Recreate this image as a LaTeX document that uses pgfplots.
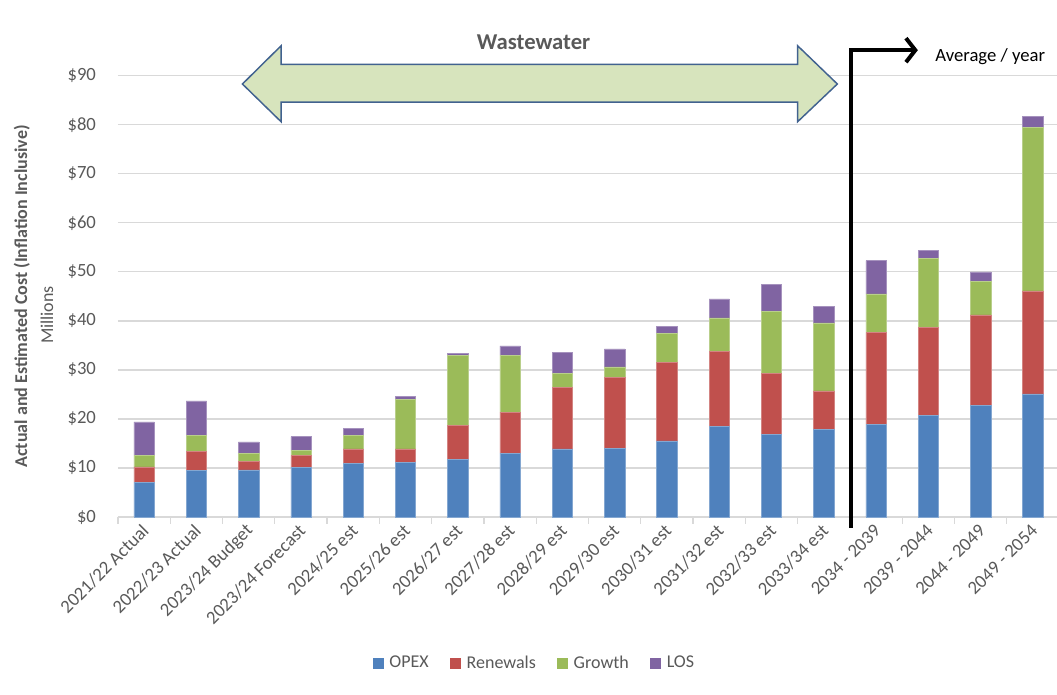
\documentclass[border=0pt]{standalone}
\usepackage{pgfplots}
\pgfplotsset{compat=1.18}
\usepackage{pgfplotstable}
\usepackage{fontspec}
\setmainfont{Carlito}
\usetikzlibrary{arrows.meta}
\definecolor{opex}{HTML}{4F81BD}
\definecolor{ren}{HTML}{C0504D}
\definecolor{gro}{HTML}{9BBB59}
\definecolor{los}{HTML}{8064A2}
\definecolor{txt}{HTML}{595959}
\definecolor{gridc}{HTML}{D9D9D9}
\definecolor{ampfill}{HTML}{D7E4BD}
\definecolor{ampline}{HTML}{41628F}

\pgfplotstableread{
x opex ren gro los
0 7.1 3.1 2.3 6.9
1 9.5 3.9 3.3 7.0
2 9.6 1.8 1.6 2.3
3 10.1 2.4 1.1 2.8
4 10.9 3.0 2.7 1.5
5 11.1 2.8 10.1 0.6
6 11.7 7.0 14.2 0.4
7 13.0 8.4 11.6 1.9
8 13.9 12.6 2.8 4.2
9 14.0 14.5 2.1 3.7
10 15.5 16.1 5.9 1.4
11 18.5 15.2 6.9 3.9
12 16.9 12.4 12.6 5.5
13 17.9 7.8 13.9 3.4
14 18.9 18.7 7.9 6.8
15 20.7 17.9 14.1 1.7
16 22.8 18.4 6.9 1.9
17 25.1 21.0 33.4 2.2
}\data

\begin{document}
\begin{tikzpicture}
\path[use as bounding box] (-88.5pt,-133.5pt) rectangle (704.25pt,387.75pt);
\begin{axis}[
  at={(0,0)}, anchor=south west,
  width=705.75pt, height=331pt, scale only axis,
  ybar stacked, bar width=0.39,
  xmin=-0.5, xmax=17.5, ymin=0, ymax=90,
  clip=false,
  axis lines*=left,
  x axis line style={draw=gridc, line width=1pt},
  y axis line style={draw=none},
  ymajorgrids, grid style={draw=gridc, line width=1pt},
  ytick={0,10,...,90},
  yticklabels={\$0,\$10,\$20,\$30,\$40,\$50,\$60,\$70,\$80,\$90},
  ytick style={draw=none},
  yticklabel style={font=\fontsize{14}{17}\selectfont, text=txt, xshift=-8pt},
  xtick={-0.5,0.5,...,17.5},
  x tick label as interval,
  xticklabels={2021/22 Actual,2022/23 Actual,2023/24 Budget,2023/24 Forecast,2024/25 est,2025/26 est,2026/27 est,2027/28 est,2028/29 est,2029/30 est,2030/31 est,2031/32 est,2032/33 est,2033/34 est,2034 - 2039,2039 - 2044,2044 - 2049,2049 - 2054},
  xtick style={draw=gridc, line width=1pt},
  tick align=outside, major tick length=5pt,
  xticklabel style={rotate=45, anchor=east, font=\fontsize{14}{17}\selectfont, text=txt, xshift=2pt, yshift=-3pt},
  legend style={at={(0.443,-0.331)}, anchor=center, draw=none, legend columns=-1,
    font=\fontsize{13.5}{16}\selectfont, text=txt,
    /tikz/every even column/.append style={column sep=14pt}},
]
\addplot[fill=opex, draw=opex!70!white, line width=0.4pt, legend image code/.code={\fill[opex] (0pt,-3.75pt) rectangle (7.5pt,3.75pt); \path (10pt,0pt);}] table[x=x,y=opex]{\data};
\addlegendentry{OPEX}
\addplot[fill=ren, draw=ren!70!white, line width=0.4pt, legend image code/.code={\fill[ren] (0pt,-3.75pt) rectangle (7.5pt,3.75pt); \path (10pt,0pt);}] table[x=x,y=ren]{\data};
\addlegendentry{Renewals}
\addplot[fill=gro, draw=gro!70!white, line width=0.4pt, legend image code/.code={\fill[gro] (0pt,-3.75pt) rectangle (7.5pt,3.75pt); \path (10pt,0pt);}] table[x=x,y=gro]{\data};
\addlegendentry{Growth}
\addplot[fill=los, draw=los!70!white, line width=0.4pt, legend image code/.code={\fill[los] (0pt,-3.75pt) rectangle (7.5pt,3.75pt); \path (10pt,0pt);}] table[x=x,y=los]{\data};
\addlegendentry{LOS}

\draw[ampline, fill=ampfill, line width=1.1pt, line join=miter]
  (axis cs:1.88,88.3) -- (axis cs:2.62,96.1) -- (axis cs:2.62,92.3) -- (axis cs:12.50,92.3)
  -- (axis cs:12.50,96.1) -- (axis cs:13.26,88.3) -- (axis cs:12.50,80.6) -- (axis cs:12.50,84.6)
  -- (axis cs:2.62,84.6) -- (axis cs:2.62,80.6) -- cycle;
\node[font=\bfseries\fontsize{13.5}{16}\selectfont] at (axis cs:7.41,88.3) {AMP};
\node[font=\bfseries\fontsize{17}{20}\selectfont, text=txt] at (axis cs:7.45,96.9) {Wastewater};
\draw[line width=3pt, line join=miter, -{Straight Barb[length=7pt,width=18pt]}]
  (axis cs:13.52,-2.2) -- (axis cs:13.52,95.2) -- (axis cs:14.80,95.2);
\node[anchor=west, inner sep=0pt, font=\fontsize{14}{17}\selectfont] at (axis cs:15.13,93.8) {Average / year};
\node[rotate=90, font=\fontsize{13.5}{16}\selectfont, text=txt] at (axis cs:-1.86,41.2) {Millions};
\node[rotate=90, font=\bfseries\fontsize{13.5}{16}\selectfont, text=txt] at (axis cs:-2.34,45) {Actual and Estimated Cost (Inflation Inclusive)};
\end{axis}
\end{tikzpicture}
\end{document}
